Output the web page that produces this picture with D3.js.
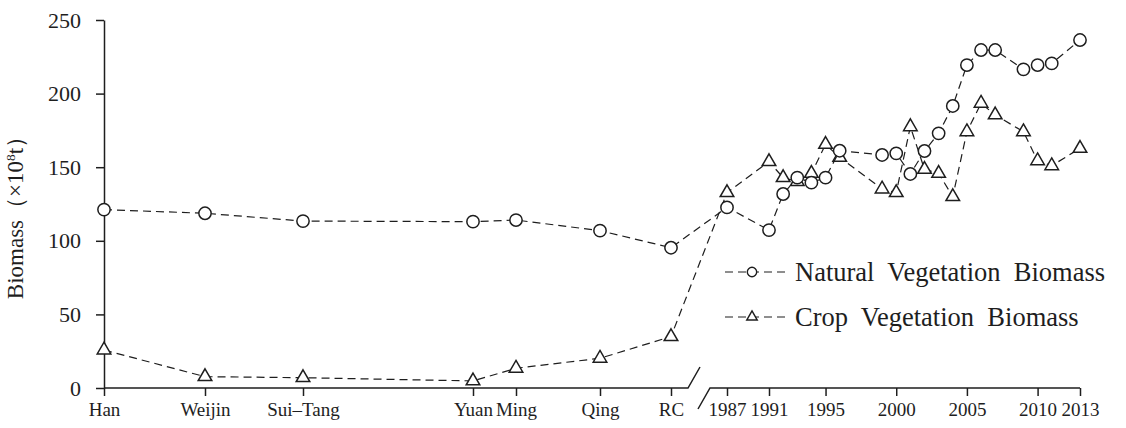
<!DOCTYPE html>
<html>
<head>
<meta charset="utf-8">
<script src="https://cdn.jsdelivr.net/npm/d3@7"></script>
<style>
  html, body { margin: 0; padding: 0; background: #fff; }
  svg { display: block; }
  text { font-family: "Liberation Serif", "Times New Roman", serif; fill: #1e1e1e; }
  .legend text { white-space: pre; }
</style>
</head>
<body>
<svg id="chart" width="1126" height="428"></svg>
<script>
// Historical periods (dynasties)
const eras = ["Han", "Weijin", "Sui–Tang", "Yuan", "Ming", "Qing", "RC"];
const eraNatural = [121.2, 118.7, 113.4, 113.0, 114.1, 106.9, 95.3];
const eraCrop = [25.8, 7.7, 7.0, 4.8, 13.4, 20.2, 34.9];

// Modern annual records
const years = [1987, 1991, 1992, 1993, 1994, 1995, 1996, 1999, 2000, 2001,
               2002, 2003, 2004, 2005, 2006, 2007, 2009, 2010, 2011, 2013];
const yearNatural = [122.7, 107.3, 131.8, 142.9, 139.5, 142.9, 161.2, 158.3, 159.4, 145.4,
                     161.0, 173.0, 191.6, 219.4, 229.6, 229.6, 216.5, 219.4, 220.5, 236.4];
const yearCrop = [132.7, 153.8, 142.9, 140.2, 145.8, 165.5, 156.7, 135.2, 132.7, 177.5,
                  148.5, 145.8, 130.0, 174.1, 193.4, 185.5, 174.1, 154.4, 151.0, 162.8];

const yearTicks = [1987, 1991, 1995, 2000, 2005, 2010, 2013];
const yTicks = [0, 50, 100, 150, 200, 250];

const seriesNames = ["Natural  Vegetation  Biomass", "Crop  Vegetation  Biomass"];

const svg = d3.select("#chart");
const ink = "#1e1e1e";

// Scales
const y = d3.scaleLinear().domain([0, 250]).range([388, 20]);
const xEra = d3.scaleOrdinal().domain(eras).range([104, 205, 303, 473, 516, 600, 671]);
const xYear = d3.scaleLinear().domain([1987, 1991, 2013]).range([727, 769, 1080]);

const axisX = xEra("Han");
const baseY = y(0);

// Y axis
const yAxis = svg.append("g")
  .attr("transform", `translate(${axisX},0)`)
  .call(d3.axisLeft(y).tickValues(yTicks).tickSize(8).tickSizeOuter(0).tickPadding(15));
yAxis.select(".domain").attr("stroke", ink).attr("stroke-width", 1.5);
yAxis.selectAll(".tick line").attr("stroke", ink).attr("stroke-width", 1.5);
yAxis.selectAll(".tick text").attr("font-size", 22).attr("font-family", "Liberation Serif").attr("fill", ink);

// X axes: ticks from the library, baseline drawn with a break between periods
const eraAxis = svg.append("g")
  .attr("transform", `translate(0,${baseY})`)
  .call(d3.axisBottom(xEra).tickSize(8).tickSizeOuter(0).tickPadding(7));
const yearAxis = svg.append("g")
  .attr("transform", `translate(0,${baseY})`)
  .call(d3.axisBottom(xYear).tickValues(yearTicks).tickFormat(d3.format("d"))
        .tickSize(8).tickSizeOuter(0).tickPadding(7));
[eraAxis, yearAxis].forEach(g => {
  g.select(".domain").remove();
  g.selectAll(".tick line").attr("stroke", ink).attr("stroke-width", 1.5);
  g.selectAll(".tick text").attr("font-size", 19).attr("font-family", "Liberation Serif").attr("fill", ink);
});

const breakL = 688, breakR = 710;
svg.append("path")
  .attr("d", `M${axisX},${baseY}H${breakL}l12,-21`)
  .attr("fill", "none").attr("stroke", ink).attr("stroke-width", 1.5);
svg.append("path")
  .attr("d", `M${breakR - 12},${baseY + 21}l12,-21H${xYear(2013)}`)
  .attr("fill", "none").attr("stroke", ink).attr("stroke-width", 1.5);

// Y axis title
const yTitle = svg.append("text")
  .attr("transform", `translate(23,212) rotate(-90)`)
  .attr("text-anchor", "middle")
  .attr("font-size", 23);
yTitle.append("tspan").text("Biomass（×10");
yTitle.append("tspan").attr("font-size", 13.5).attr("dy", -8).text("8");
yTitle.append("tspan").attr("dy", 8).text("t）");

// Series data
const natural = eras.map((e, i) => ({ x: xEra(e), v: eraNatural[i] }))
  .concat(years.map((t, i) => ({ x: xYear(t), v: yearNatural[i] })));
const crop = eras.map((e, i) => ({ x: xEra(e), v: eraCrop[i] }))
  .concat(years.map((t, i) => ({ x: xYear(t), v: yearCrop[i] })));

const line = d3.line().x(d => d.x).y(d => y(d.v));

const circleSym = d3.symbol().type(d3.symbolCircle).size(Math.PI * 38);
const triSym = d3.symbol().type(d3.symbolTriangle).size(80);

function drawSeries(data, sym) {
  svg.append("path")
    .datum(data)
    .attr("d", line)
    .attr("fill", "none")
    .attr("stroke", ink)
    .attr("stroke-width", 1.2)
    .attr("stroke-dasharray", "8,5");
  svg.append("g").selectAll("path")
    .data(data)
    .join("path")
    .attr("transform", d => `translate(${d.x},${y(d.v)})`)
    .attr("d", sym)
    .attr("fill", "#fff")
    .attr("stroke", ink)
    .attr("stroke-width", 1.5);
}
drawSeries(crop, triSym);
drawSeries(natural, circleSym);

// Legend
const legendRows = [
  { name: seriesNames[0], sym: d3.symbol().type(d3.symbolCircle).size(Math.PI * 22) },
  { name: seriesNames[1], sym: d3.symbol().type(d3.symbolTriangle).size(48) }
];
const legend = svg.append("g").attr("class", "legend").attr("transform", "translate(725,272)");
legendRows.forEach((r, i) => {
  const g = legend.append("g").attr("transform", `translate(0,${i * 45})`);
  g.append("line").attr("x1", 0).attr("x2", 62).attr("y1", 0).attr("y2", 0)
    .attr("stroke", ink).attr("stroke-width", 1.2).attr("stroke-dasharray", "8,5");
  g.append("path").attr("transform", "translate(27,0)").attr("d", r.sym)
    .attr("fill", "#fff").attr("stroke", ink).attr("stroke-width", 1.4);
  g.append("text").attr("x", 70).attr("dy", "0.35em")
    .attr("font-size", 26.5).text(r.name);
});
</script>
</body>
</html>
